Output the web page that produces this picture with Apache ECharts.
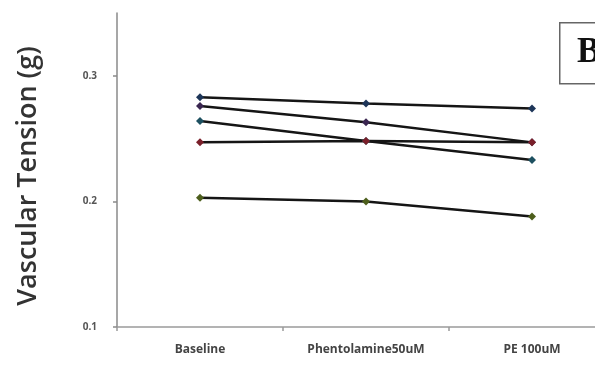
<!DOCTYPE html>
<html>
<head>
<meta charset="utf-8">
<script src="https://cdn.jsdelivr.net/npm/echarts@6/dist/echarts.min.js"></script>
<style>
  html, body { margin: 0; padding: 0; background: #fff; overflow: hidden; }
  /* the plot area runs a little past the right edge of the page */
  #chart { width: 615px; height: 373px; }
</style>
</head>
<body>
<div id="chart"></div>
<script>
// Treatment conditions on the x axis
const categories = ['Baseline', 'Phentolamine50uM', 'PE 100uM'];

// Vascular tension (g) for each vessel across the three conditions
const vessel1 = [0.283, 0.278, 0.274];
const vessel2 = [0.276, 0.263, 0.247];
const vessel3 = [0.264, 0.248, 0.233];
const vessel4 = [0.247, 0.248, 0.247];
const vessel5 = [0.203, 0.200, 0.188];

const yTicks = [0.1, 0.2, 0.3];

const vessels = [
  { data: vessel1, color: '#1d3558' },
  { data: vessel2, color: '#3a2650' },
  { data: vessel3, color: '#1d5060' },
  { data: vessel4, color: '#7a1f2a' },
  { data: vessel5, color: '#4d5e1c' }
];

const chart = echarts.init(document.getElementById('chart'), null, { renderer: 'canvas' });

chart.setOption({
  animation: false,
  backgroundColor: '#fff',
  grid: { left: 117, top: 13, bottom: 46, right: 0, containLabel: false },
  xAxis: {
    type: 'category',
    data: categories,
    boundaryGap: true,
    axisLine: { lineStyle: { color: '#9a9a9a', width: 1.5 } },
    axisTick: { show: true, length: 4, lineStyle: { color: '#9a9a9a', width: 1.5 } },
    axisLabel: {
      margin: 17,
      fontSize: 12,
      fontWeight: 'bold',
      color: '#444',
      fontFamily: 'Open Sans'
    },
    splitLine: { show: false }
  },
  yAxis: {
    type: 'value',
    min: 0.1,
    max: 0.35,
    interval: 0.1,
    name: 'Vascular Tension (g)',
    nameLocation: 'middle',
    nameGap: 75,
    nameTextStyle: {
      fontSize: 27, color: '#333', fontFamily: 'Open Sans', fontWeight: 600,
      padding: [0, 12, 0, 0]
    },
    axisLine: { show: true, lineStyle: { color: '#8a8a8a', width: 1.5 } },
    axisTick: {
      show: true, length: 4, inside: false,
      customValues: yTicks,
      lineStyle: { color: '#8a8a8a', width: 1.5 }
    },
    axisLabel: {
      customValues: yTicks,
      margin: 20,
      fontSize: 10,
      fontWeight: 'bold',
      color: '#555',
      fontFamily: 'Open Sans',
      formatter: v => v.toFixed(1)
    },
    splitLine: { show: false }
  },
  series: vessels.map(v => ({
    type: 'line',
    data: v.data,
    symbol: 'diamond',
    symbolSize: 8,
    showSymbol: true,
    lineStyle: { color: '#151515', width: 2.5 },
    itemStyle: { color: v.color, borderWidth: 0 },
    z: 2
  })),
  graphic: [
    {
      type: 'rect',
      left: 559,
      top: 22,
      shape: { width: 60, height: 61 },
      style: { fill: '#fff', stroke: '#666', lineWidth: 1.5 }
    },
    {
      type: 'text',
      left: 577,
      top: 35,
      style: {
        text: 'B',
        font: 'bold 35px "Liberation Serif", serif',
        fill: '#111'
      }
    }
  ]
});
</script>
</body>
</html>
